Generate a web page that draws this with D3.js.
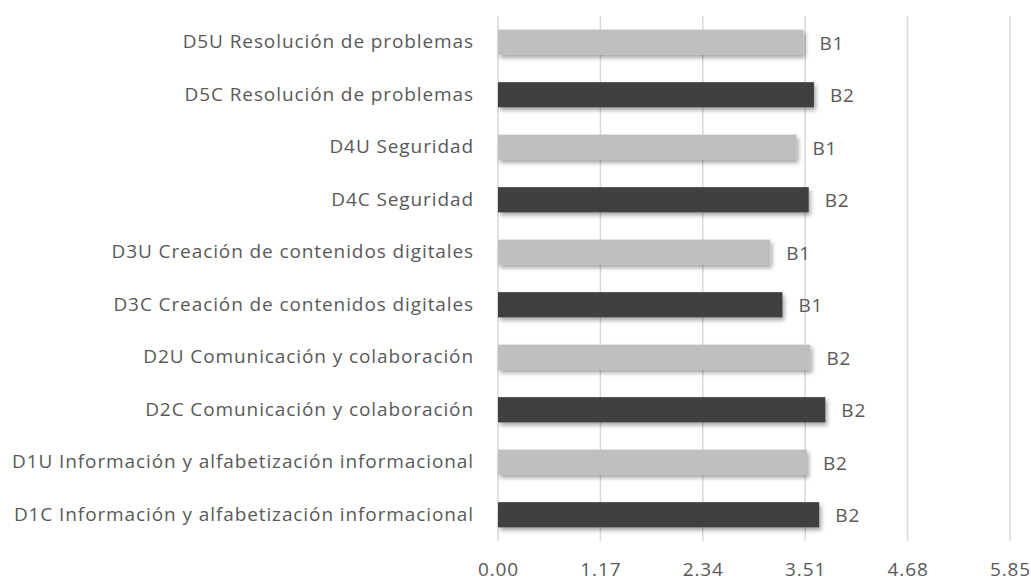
<!DOCTYPE html>
<html>
<head>
	<meta charset="utf-8">
	<script src="https://d3js.org/d3.v7.min.js"></script>
	<style type="text/css">
		body { margin: 0; background: #fff; }
		text { font-family: 'Open Sans', sans-serif; fill: #595959; }
	</style>
</head>
<body>
	<script type="text/javascript">
		// categories, top to bottom
		var categories = [
			'D5U Resolución de problemas',
			'D5C Resolución de problemas',
			'D4U Seguridad',
			'D4C Seguridad',
			'D3U Creación de contenidos digitales',
			'D3C Creación de contenidos digitales',
			'D2U Comunicación y colaboración',
			'D2C Comunicación y colaboración',
			'D1U Información y alfabetización informacional',
			'D1C Información y alfabetización informacional'
		];
		var values = [3.49, 3.61, 3.41, 3.55, 3.11, 3.25, 3.57, 3.74, 3.53, 3.67];
		var levels = ['B1', 'B2', 'B1', 'B2', 'B1', 'B1', 'B2', 'B2', 'B2', 'B2'];
		var tickValues = [0, 1.17, 2.34, 3.51, 4.68, 5.85];

		var width = 1031, height = 581;
		var plot = { left: 498, right: 1010, top: 16, bottom: 541 };
		var fontSize = '19px', spacing = '0.9px';

		var svg = d3.select('body')
			.append('svg')
				.attr('width', width)
				.attr('height', height);

		/** drop shadow for bars **/
		var filter = svg.append('defs').append('filter')
			.attr('id', 'shadow')
			.attr('x', '-5%').attr('y', '-30%')
			.attr('width', '115%').attr('height', '190%');
		filter.append('feDropShadow')
			.attr('dx', 2).attr('dy', 3)
			.attr('stdDeviation', 2)
			.attr('flood-color', '#000')
			.attr('flood-opacity', 0.35);

		var x = d3.scaleLinear()
			.domain([0, 5.85])
			.range([plot.left, plot.right]);

		var y = d3.scaleBand()
			.domain(categories)
			.range([plot.top, plot.bottom])
			.paddingInner(0.52)
			.paddingOuter(0.26);

		// Gridlines
		svg.append('g')
			.selectAll('line')
				.data(tickValues).enter()
			.append('line')
				.attr('x1', function(d) { return x(d); })
				.attr('x2', function(d) { return x(d); })
				.attr('y1', plot.top)
				.attr('y2', plot.bottom)
				.style('stroke', '#d9d9d9')
				.style('stroke-width', 1.5);

		// Bars
		svg.append('g')
			.selectAll('rect')
				.data(values).enter()
			.append('rect')
				.attr('x', x(0))
				.attr('y', function(d, i) { return y(categories[i]); })
				.attr('width', function(d) { return x(d) - x(0); })
				.attr('height', y.bandwidth())
				.attr('filter', 'url(#shadow)')
				.style('fill', function(d, i) { return i % 2 === 0 ? '#bfbfbf' : '#404040'; });

		// Data labels
		svg.append('g')
			.selectAll('text')
				.data(values).enter()
			.append('text')
				.attr('x', function(d) { return x(d) + 16; })
				.attr('y', function(d, i) { return y(categories[i]) + y.bandwidth() / 2 + 1; })
				.attr('dy', '0.35em')
				.style('font-size', fontSize)
				.style('letter-spacing', spacing)
				.text(function(d, i) { return levels[i]; });

		// Category axis
		var yAxis = svg.append('g')
			.attr('transform', 'translate(' + (plot.left - 24) + ',0)')
			.call(d3.axisLeft(y).tickSize(0).tickPadding(0));
		yAxis.select('.domain').remove();
		yAxis.selectAll('text')
			.style('font-size', fontSize)
			.style('letter-spacing', spacing)
			.style('font-family', "'Open Sans', sans-serif")
			.style('fill', '#595959');

		// Value axis
		var xAxis = svg.append('g')
			.attr('transform', 'translate(0,' + (plot.bottom + 21) + ')')
			.call(d3.axisBottom(x).tickValues(tickValues).tickFormat(d3.format('.2f')).tickSize(0).tickPadding(0));
		xAxis.select('.domain').remove();
		xAxis.selectAll('text')
			.style('font-size', fontSize)
			.style('letter-spacing', spacing)
			.style('font-family', "'Open Sans', sans-serif")
			.style('fill', '#595959');
	</script>
</body>
</html>
